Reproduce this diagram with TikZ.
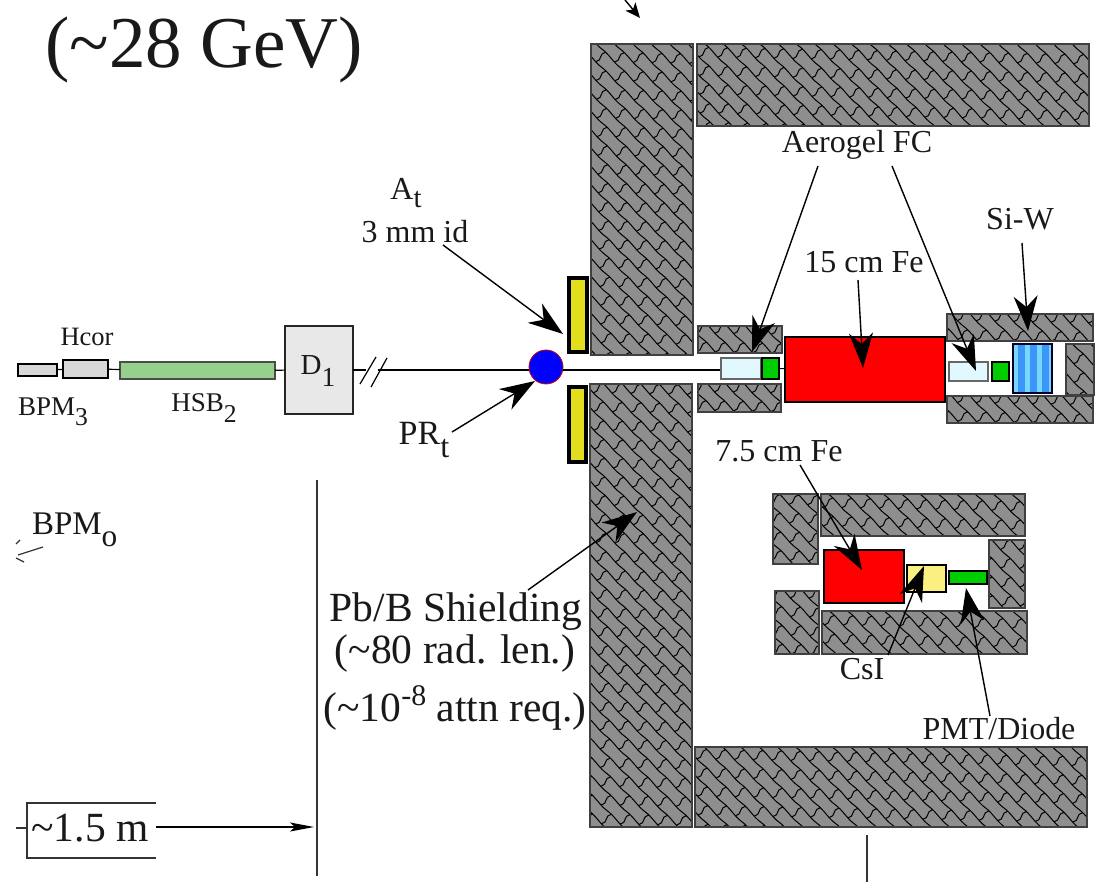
\documentclass[tikz,border=0pt]{standalone}
\usepackage{fontspec}
\setmainfont{Liberation Serif}
\usetikzlibrary{arrows.meta,fit}
\definecolor{hatchgray}{RGB}{142,142,142}
\definecolor{plate}{RGB}{226,222,30}
\definecolor{hsbgreen}{RGB}{150,208,140}
\definecolor{pale}{RGB}{225,248,255}
\definecolor{dgreen}{RGB}{0,205,0}
\definecolor{csi}{RGB}{250,240,130}
\definecolor{boxgray}{RGB}{216,216,216}
\definecolor{dipgray}{RGB}{232,232,232}
\definecolor{siblue}{RGB}{60,150,250}
\definecolor{sicyan}{RGB}{120,215,255}
\newcommand{\sbs}[1]{\raisebox{-.38em}{\scalebox{.95}{#1}}}
\newcommand{\sps}[1]{\raisebox{.4em}{\scalebox{.72}{#1}}}
\newcommand{\hatchbox}[4]{%
  \begin{scope}
    \fill[hatchgray] (#1,#2) rectangle (#3,#4);
    \clip (#1,#2) rectangle (#3,#4);
    \pgfmathsetmacro{\hcx}{(#1+#3)/2}
    \pgfmathsetmacro{\hcy}{(#2+#4)/2}
    \pgfmathsetmacro{\hR}{(abs(#3-#1)+abs(#4-#2))/2*0.75+30}
    \pgfmathtruncatemacro{\hnk}{\hR/13+1}
    \pgfmathtruncatemacro{\hni}{\hR/27+1}
    \begin{scope}[shift={(\hcx,\hcy)},rotate=-45]
      \foreach \k [evaluate=\k as \ko using {mod(\k+100,2)*13.5}] in {-\hnk,...,\hnk}{
        \draw[hatchline]
        \foreach \i in {-\hni,...,\hni}{
          (\i*27+\ko,\k*13) .. controls (\i*27+\ko+9,\k*13-1.5) and (\i*27+\ko+18,\k*13+1.5) .. (\i*27+\ko+27,\k*13)
          (\i*27+\ko+5,\k*13) .. controls (\i*27+\ko+1,\k*13+5) and (\i*27+\ko+9,\k*13+8) .. (\i*27+\ko+5,\k*13+13)
        };
      }
    \end{scope}
  \end{scope}
  \draw[hatchedge] (#1,#2) rectangle (#3,#4);
}
\tikzset{
  hatchline/.style={black,line width=1pt,line cap=round},
  hatchedge/.style={draw=black!75,line width=1.8pt},
  beam/.style={black,line width=1.2pt},
  pointer/.style={black,line width=1.4pt,-{Stealth[length=35pt,width=24pt,inset=11pt]}},
  thinrule/.style={black!80,line width=1.2pt},
  lab/.style={inner sep=0pt,outer sep=0pt,font=\fontsize{27}{29}\selectfont,align=center,text=black!90},
  midlab/.style={inner sep=0pt,outer sep=0pt,font=\fontsize{32}{34}\selectfont,align=center,text=black!90},
  biglab/.style={inner sep=0pt,outer sep=0pt,font=\fontsize{41.5}{44}\selectfont,align=center,text=black!90},
  block/.style={inner sep=0pt,outer sep=0pt,draw=black,line width=1.5pt},
  targetdot/.style={circle,fill=blue,draw=red!80!black,line width=0.8pt,minimum size=34pt,inner sep=0pt},
}
\newcommand{\blk}[6]{\node[block,fit={(#2,#3)(#4,#5)},#6] (#1) {};}
\begin{document}
\begin{tikzpicture}[x=1pt,y=-1pt]
\useasboundingbox (0,0) rectangle (1096,882);
\fill[white] (0,0) rectangle (1096,882);

% shielding
\hatchbox{591}{44}{693}{355}
\hatchbox{697}{44}{1089}{126}
\hatchbox{590}{384}{692}{827}
\hatchbox{695}{747}{1087}{827}
\hatchbox{698}{326}{782}{353}
\hatchbox{698}{384}{781}{412}
\hatchbox{947}{314}{1093}{341}
\hatchbox{947}{396}{1093}{423}
\hatchbox{1066}{344}{1094}{395}
\hatchbox{773}{494}{818}{564}
\hatchbox{821}{494}{1025}{536}
\hatchbox{989}{540}{1025}{608}
\hatchbox{775}{591}{819}{654}
\hatchbox{822}{611}{1027}{654}

% collimator plates
\blk{plateup}{569}{278}{587}{352}{fill=plate,line width=4pt}
\blk{platedn}{569}{387}{586}{462}{fill=plate,line width=4pt}

% beamline blocks
\blk{bpm}{18}{364}{57}{376}{fill=boxgray,line width=2.2pt}
\blk{hcor}{63}{360}{108}{378}{fill=boxgray,line width=2pt}
\blk{hsb}{120}{362}{275}{379}{fill=hsbgreen,draw=black!70,line width=1.4pt}
\blk{dip}{285}{326}{353}{414}{fill=dipgray,draw=black!85,line width=2pt}

% detectors upper
\blk{fcone}{721}{358}{761}{379}{fill=pale,draw=black!60,line width=1.2pt}
\blk{pmtone}{762}{358}{779}{379}{fill=dgreen,line width=1.6pt}
\blk{fecm}{785}{337}{945}{402}{fill=red,line width=1.2pt}
\blk{fctwo}{949}{362}{988}{381}{fill=pale,draw=black!60,line width=1.2pt}
\blk{pmttwo}{992}{362}{1009}{381}{fill=dgreen,line width=2pt}
\blk{siw}{1013}{344}{1052}{393}{fill=sicyan,draw=black!85!blue,line width=1.6pt}
\foreach \sx in {1018,1030,1042}{\fill[siblue] (\sx,345) rectangle (\sx+7,392);}
\draw[draw=black!85!blue,line width=1.6pt] (siw.north west) rectangle (siw.south east);

% detectors lower
\blk{fesmall}{824}{550}{904}{603}{fill=red,line width=1.2pt}
\blk{csibox}{907}{565}{946}{592}{fill=csi,line width=1.4pt}
\blk{pmtthree}{949}{571}{987}{584}{fill=dgreen,line width=1.6pt}

% beam connections
\draw[beam] (bpm) -- (hcor);
\draw[beam] (hcor) -- (hsb);
\draw[beam] (hsb) -- (dip);
\coordinate (beaml) at (353,370);
\coordinate (beamr) at (720,370);
\draw[beam] (beaml) -- (beamr);
\draw[beam] (pmtone) -- (fecm);
\node[targetdot] (target) at (546,367) {};
\coordinate (sa1) at (360,384);
\coordinate (sa2) at (376,357);
\coordinate (sb1) at (371,387);
\coordinate (sb2) at (387,358);
\fill[white] (366,368) rectangle (378,372);
\draw[beam] (sa1) -- (sa2);
\draw[beam] (sb1) -- (sb2);

% labels
\node[inner sep=0pt,font=\fontsize{73}{75}\selectfont,text=black!90,anchor=base] (title) at (204,68) {(\char"007E 28 GeV)};
\node[lab,font=\fontsize{26.5}{28}\selectfont] (hcorl) at (87,337) {Hcor};
\node[lab] (bpml) at (53,412) {BPM\sbs{3}};
\node[lab] (hsbl) at (204,408) {HSB\sbs{2}};
\node[lab,font=\fontsize{29}{30}\selectfont] (dipl) at (318,371) {D\sbs{1}};
\node[midlab] (atl) at (406,193) {A\raisebox{-.25em}{\scalebox{.9}{t}}};
\node[midlab] (idl) at (415,232) {3 mm id};
\node[midlab,font=\fontsize{34}{36}\selectfont] (prl) at (424,440) {PR\sbs{t}};
\node[midlab,font=\fontsize{33}{35}\selectfont,anchor=west] (bpmo) at (32,530) {BPM\sbs{o}};
\node[biglab] (shield) at (456,612) {Pb/B Shielding};
\node[biglab] (radlen) at (455,654) {(\char"007E 80 rad. len.)};
\node[biglab] (attn) at (455,708) {(\char"007E 10\sps{-8} attn req.)};
\node[midlab] (aero) at (857,145) {Aerogel FC};
\node[midlab] (siwl) at (1020,219) {Si-W};
\node[midlab] (fel) at (864,262) {15 cm Fe};
\node[midlab] (fesl) at (779,451) {7.5 cm Fe};
\node[midlab] (csil) at (862,669) {CsI};
\node[midlab] (pmtl) at (999,729) {PMT/Diode};
\node[biglab] (dist) at (90,828) {\char"007E 1.5 m};

% pointers
\coordinate (atail) at (443,245);
\coordinate (atip) at (563,334);
\coordinate (prtail) at (452,432);
\coordinate (prtip) at (535,381);
\coordinate (shtail) at (528,590);
\coordinate (shtip) at (637,512);
\coordinate (aeroatail) at (818,166);
\coordinate (aeroa) at (752,352);
\coordinate (aerobtail) at (892,166);
\coordinate (aerob) at (976,371);
\coordinate (siwtail) at (1022,243);
\coordinate (siwtip) at (1028,331);
\coordinate (fetail) at (858,280);
\coordinate (fetip) at (863,368);
\coordinate (festail) at (800,465);
\coordinate (festip) at (862,570);
\coordinate (csitail) at (888,655);
\coordinate (csitip) at (924,566);
\coordinate (pmttail) at (990,716);
\coordinate (pmttip) at (966,588);
\coordinate (toptail) at (625,0);
\coordinate (toptip) at (640,18);
\draw[pointer] (atail) -- (atip);
\draw[pointer] (prtail) -- (prtip);
\draw[pointer] (shtail) -- (shtip);
\draw[pointer] (aeroatail) -- (aeroa);
\draw[pointer] (aerobtail) -- (aerob);
\draw[pointer] (siwtail) -- (siwtip);
\draw[pointer] (fetail) -- (fetip);
\draw[pointer] (festail) -- (festip);
\draw[pointer] (csitail) -- (csitip);
\draw[pointer] (pmttail) -- (pmttip);
\draw[black,line width=1.4pt,-{Stealth[length=15pt,width=13pt,inset=4pt]}] (toptail) -- (toptip);

% distance marker
\coordinate (brTR) at (156,803);
\coordinate (brTL) at (27,803);
\coordinate (brBL) at (27,858);
\coordinate (brBR) at (156,858);
\coordinate (brTick) at (16,828);
\coordinate (brMid) at (27,828);
\coordinate (arrS) at (156,827);
\coordinate (arrE) at (314,827);
\draw[thinrule,line width=1.6pt] (brTR) -- (brTL) -- (brBL) -- (brBR);
\draw[thinrule,line width=1.6pt] (brTick) -- (brMid);
\draw[black,line width=1.2pt,-{Stealth[length=24pt,width=9pt,inset=5pt]}] (arrS) -- (arrE);
\coordinate (vrt) at (317,480);
\coordinate (vrb) at (317,876);
\draw[thinrule] (vrt) -- (vrb);
\coordinate (vbt) at (867,835);
\coordinate (vbb) at (867,882);
\draw[thinrule] (vbt) -- (vbb);
\coordinate (gl1) at (18,555);
\coordinate (gl2) at (43,547);
\coordinate (gl3) at (16,558);
\coordinate (gl4) at (24,562);
\coordinate (gl5) at (16,544);
\coordinate (gl6) at (20,540);
\draw[thinrule,line width=1.2pt] (gl1) -- (gl2) (gl3) -- (gl4) (gl5) -- (gl6);
\end{tikzpicture}
\end{document}
